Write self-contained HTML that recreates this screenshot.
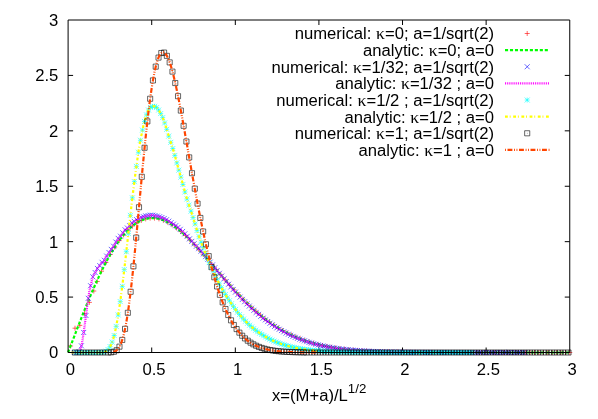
<!DOCTYPE html>
<html><head><meta charset="utf-8"><title>plot</title>
<style>
html,body{margin:0;padding:0;background:#fff}
svg{display:block;will-change:transform}
.t{font-family:"Liberation Sans",sans-serif;font-size:16.65px;fill:#000}
.k{font-family:"Liberation Serif",serif;font-size:17.6px}
</style></head><body>
<svg width="598" height="419" viewBox="0 0 598 419">
<rect width="598" height="419" fill="#fff"/>
<g class="t" text-anchor="end">
<text x="494.1" y="39.4">numerical: <tspan class="k">κ</tspan>=0; a=1/sqrt(2)</text>
<text x="494.1" y="56.03">analytic: <tspan class="k">κ</tspan>=0; a=0</text>
<text x="494.1" y="72.66">numerical: <tspan class="k">κ</tspan>=1/32; a=1/sqrt(2)</text>
<text x="494.1" y="89.29">analytic: <tspan class="k">κ</tspan>=1/32 ; a=0</text>
<text x="494.1" y="105.92">numerical: <tspan class="k">κ</tspan>=1/2 ; a=1/sqrt(2)</text>
<text x="494.1" y="122.55">analytic: <tspan class="k">κ</tspan>=1/2 ; a=0</text>
<text x="494.1" y="139.18">numerical: <tspan class="k">κ</tspan>=1; a=1/sqrt(2)</text>
<text x="494.1" y="155.81">analytic: <tspan class="k">κ</tspan>=1 ; a=0</text>
</g>
<path fill="none" stroke="#000" stroke-width="1" d="M151.71 352.5v-5M151.71 20.0v5M68.1 297.08h5M569.75 297.08h-5M235.32 352.5v-5M235.32 20.0v5M68.1 241.67h5M569.75 241.67h-5M318.92 352.5v-5M318.92 20.0v5M68.1 186.25h5M569.75 186.25h-5M402.53 352.5v-5M402.53 20.0v5M68.1 130.83h5M569.75 130.83h-5M486.14 352.5v-5M486.14 20.0v5M68.1 75.42h5M569.75 75.42h-5"/>
<g fill="none" stroke-width="0.6">
<path stroke="#f00" d="M524.7 33.5h5M527.2 31v5M68.08 345.97h5M70.58 343.47v5M72.5 328.2h5M75 325.7v5M77.3 325.4h5M79.8 322.9v5M82 313.5h5M84.5 311v5M86.9 302.4h5M89.4 299.9v5M91.3 291h5M93.8 288.5v5M94.7 281.5h5M97.2 279v5M99.01 271.2h5M101.51 268.7v5M103.43 262.47h5M105.93 259.97v5M107.84 254.43h5M110.34 251.93v5M112.26 247.14h5M114.76 244.64v5M116.68 240.62h5M119.18 238.12v5M121.1 234.92h5M123.6 232.42v5M125.52 230.04h5M128.02 227.54v5M129.93 226h5M132.43 223.5v5M134.35 222.81h5M136.85 220.31v5M138.77 220.45h5M141.27 217.95v5M143.19 218.9h5M145.69 216.4v5M147.61 218.14h5M150.11 215.64v5M152.02 218.15h5M154.52 215.65v5M156.44 218.87h5M158.94 216.37v5M160.86 220.26h5M163.36 217.76v5M165.28 222.29h5M167.78 219.79v5M169.7 224.88h5M172.2 222.38v5M174.11 227.99h5M176.61 225.49v5M178.53 231.57h5M181.03 229.07v5M182.95 235.54h5M185.45 233.04v5M187.37 239.85h5M189.87 237.35v5M191.79 244.44h5M194.29 241.94v5M196.2 249.26h5M198.7 246.76v5M200.62 254.25h5M203.12 251.75v5M205.04 259.35h5M207.54 256.85v5M209.46 264.52h5M211.96 262.02v5M213.88 269.71h5M216.38 267.21v5M218.29 274.87h5M220.79 272.37v5M222.71 279.98h5M225.21 277.48v5M227.13 284.99h5M229.63 282.49v5M231.55 289.87h5M234.05 287.37v5M235.97 294.6h5M238.47 292.1v5M240.38 299.16h5M242.88 296.66v5M244.8 303.52h5M247.3 301.02v5M249.22 307.68h5M251.72 305.18v5M253.64 311.62h5M256.14 309.12v5M258.06 315.34h5M260.56 312.84v5M262.47 318.83h5M264.97 316.33v5M266.89 322.09h5M269.39 319.59v5M271.31 325.12h5M273.81 322.62v5M275.73 327.93h5M278.23 325.43v5M280.15 330.53h5M282.65 328.03v5M284.56 332.91h5M287.06 330.41v5M288.98 335.09h5M291.48 332.59v5M293.4 337.07h5M295.9 334.57v5M297.82 338.87h5M300.32 336.37v5M302.24 340.5h5M304.74 338v5M306.65 341.97h5M309.15 339.47v5M311.07 343.28h5M313.57 340.78v5M315.49 344.46h5M317.99 341.96v5M319.91 345.51h5M322.41 343.01v5M324.33 346.44h5M326.83 343.94v5M328.74 347.26h5M331.24 344.76v5M333.16 347.98h5M335.66 345.48v5M337.58 348.62h5M340.08 346.12v5M342 349.18h5M344.5 346.68v5M346.42 349.66h5M348.92 347.16v5M350.83 350.08h5M353.33 347.58v5M355.25 350.45h5M357.75 347.95v5M359.67 350.76h5M362.17 348.26v5M364.09 351.03h5M366.59 348.53v5M368.51 351.27h5M371.01 348.77v5M372.92 351.47h5M375.42 348.97v5M377.34 351.63h5M379.84 349.13v5M381.76 351.78h5M384.26 349.28v5M386.18 351.9h5M388.68 349.4v5M390.6 352h5M393.1 349.5v5M395.01 352.09h5M397.51 349.59v5M399.43 352.16h5M401.93 349.66v5M403.85 352.22h5M406.35 349.72v5M408.27 352.27h5M410.77 349.77v5M412.69 352.31h5M415.19 349.81v5M417.1 352.35h5M419.6 349.85v5M421.52 352.38h5M424.02 349.88v5M425.94 352.4h5M428.44 349.9v5M430.36 352.42h5M432.86 349.92v5M434.78 352.44h5M437.28 349.94v5M439.19 352.45h5M441.69 349.95v5M443.61 352.46h5M446.11 349.96v5M448.03 352.47h5M450.53 349.97v5M452.45 352.47h5M454.95 349.97v5M456.87 352.48h5M459.37 349.98v5M461.28 352.48h5M463.78 349.98v5M465.7 352.49h5M468.2 349.99v5M470.12 352.49h5M472.62 349.99v5M474.54 352.49h5M477.04 349.99v5M478.96 352.49h5M481.46 349.99v5M483.37 352.5h5M485.87 350v5M487.79 352.5h5M490.29 350v5M492.21 352.5h5M494.71 350v5M496.63 352.5h5M499.13 350v5M501.05 352.5h5M503.55 350v5M505.46 352.5h5M507.96 350v5M509.88 352.5h5M512.38 350v5M514.3 352.5h5M516.8 350v5M518.72 352.5h5M521.22 350v5M523.14 352.5h5M525.64 350v5M527.55 352.5h5M530.05 350v5M531.97 352.5h5M534.47 350v5M536.39 352.5h5M538.89 350v5M540.81 352.5h5M543.31 350v5M545.23 352.5h5M547.73 350v5M549.64 352.5h5M552.14 350v5M554.06 352.5h5M556.56 350v5M558.48 352.5h5M560.98 350v5M562.9 352.5h5M565.4 350v5M567.32 352.5h5M569.82 350v5"/>
<path stroke="#0f0" stroke-width="2.2" stroke-dasharray="3.1 1.87" d="M505.0 50.13H549.6"/>
<path stroke="#0f0" stroke-width="2.2" stroke-dasharray="3.1 1.87" stroke-linejoin="round" d="M68.1 352.5L69.35 349.2L70.61 345.9L71.86 342.6L73.12 339.32L74.37 336.04L75.62 332.77L76.88 329.51L78.13 326.27L79.39 323.05L80.64 319.85L81.9 316.66L83.15 313.51L84.4 310.37L85.66 307.27L86.91 304.19L88.17 301.15L89.42 298.14L90.67 295.16L91.93 292.23L93.18 289.33L94.44 286.47L95.69 283.66L96.94 280.89L98.2 278.16L99.45 275.48L100.71 272.85L101.96 270.28L103.22 267.75L104.47 265.28L105.72 262.86L106.98 260.49L108.23 258.19L109.49 255.94L110.74 253.75L111.99 251.62L113.25 249.55L114.5 247.54L115.76 245.6L117.01 243.72L118.26 241.91L119.52 240.16L120.77 238.47L122.03 236.85L123.28 235.3L124.54 233.81L125.79 232.39L127.04 231.04L128.3 229.76L129.55 228.54L130.81 227.39L132.06 226.31L133.31 225.3L134.57 224.36L135.82 223.48L137.08 222.67L138.33 221.93L139.59 221.25L140.84 220.64L142.09 220.1L143.35 219.62L144.6 219.21L145.86 218.86L147.11 218.57L148.36 218.35L149.62 218.19L150.87 218.09L152.13 218.05L153.38 218.07L154.63 218.16L155.89 218.29L157.14 218.49L158.4 218.74L159.65 219.05L160.91 219.41L162.16 219.82L163.41 220.28L164.67 220.8L165.92 221.36L167.18 221.98L168.43 222.63L169.68 223.34L170.94 224.09L172.19 224.88L173.45 225.71L174.7 226.59L175.95 227.5L177.21 228.45L178.46 229.44L179.72 230.46L180.97 231.51L182.23 232.6L183.48 233.72L184.73 234.87L185.99 236.04L187.24 237.25L188.5 238.48L189.75 239.73L191 241L192.26 242.3L193.51 243.62L194.77 244.96L196.02 246.31L197.27 247.68L198.53 249.07L199.78 250.46L201.04 251.88L202.29 253.3L203.55 254.73L204.8 256.17L206.05 257.62L207.31 259.08L208.56 260.54L209.82 262.01L211.07 263.48L212.32 264.95L213.58 266.42L214.83 267.9L216.09 269.37L217.34 270.84L218.59 272.31L219.85 273.77L221.1 275.23L222.36 276.69L223.61 278.14L224.87 279.58L226.12 281.02L227.37 282.44L228.63 283.86L229.88 285.27L231.14 286.67L232.39 288.05L233.64 289.43L234.9 290.79L236.15 292.14L237.41 293.48L238.66 294.8L239.92 296.11L241.17 297.41L242.42 298.69L243.68 299.95L244.93 301.2L246.19 302.44L247.44 303.65L248.69 304.85L249.95 306.04L251.2 307.2L252.46 308.35L253.71 309.48L254.96 310.59L256.22 311.69L257.47 312.77L258.73 313.83L259.98 314.87L261.24 315.89L262.49 316.89L263.74 317.88L265 318.85L266.25 319.79L267.51 320.72L268.76 321.64L270.01 322.53L271.27 323.41L272.52 324.26L273.78 325.1L275.03 325.92L276.28 326.73L277.54 327.51L278.79 328.28L280.05 329.03L281.3 329.76L282.56 330.48L283.81 331.17L285.06 331.86L286.32 332.52L287.57 333.17L288.83 333.8L290.08 334.42L291.33 335.02L292.59 335.6L293.84 336.17L295.1 336.72L296.35 337.26L297.6 337.79L298.86 338.3L300.11 338.79L301.37 339.27L302.62 339.74L303.88 340.2L305.13 340.64L306.38 341.07L307.64 341.48L308.89 341.89L310.15 342.28L311.4 342.66L312.65 343.02L313.91 343.38L315.16 343.72L316.42 344.06L317.67 344.38L318.92 344.69L320.18 344.99L321.43 345.29L322.69 345.57L323.94 345.84L325.2 346.11L326.45 346.36L327.7 346.61L328.96 346.85L330.21 347.08L331.47 347.3L332.72 347.51L333.97 347.72L335.23 347.92L336.48 348.11L337.74 348.29L338.99 348.47L340.25 348.64L341.5 348.81L342.75 348.97L344.01 349.12L345.26 349.26L346.52 349.41L347.77 349.54L349.02 349.67L350.28 349.8L351.53 349.92L352.79 350.03L354.04 350.14L355.29 350.25L356.55 350.35L357.8 350.45L359.06 350.55L360.31 350.64L361.57 350.72L362.82 350.81L364.07 350.89L365.33 350.96L366.58 351.03L367.84 351.1L369.09 351.17L370.34 351.23L371.6 351.3L372.85 351.35L374.11 351.41L375.36 351.46L376.61 351.51L377.87 351.56L379.12 351.61L380.38 351.65L381.63 351.7L382.89 351.74L384.14 351.77L385.39 351.81L386.65 351.85L387.9 351.88L389.16 351.91L390.41 351.94L391.66 351.97L392.92 352L394.17 352.03L395.43 352.05L396.68 352.07L397.93 352.1L399.19 352.12L400.44 352.14L401.7 352.16L402.95 352.18L404.21 352.19L405.46 352.21L406.71 352.23L407.97 352.24L409.22 352.26L410.48 352.27L411.73 352.28L412.98 352.29L414.24 352.31L415.49 352.32L416.75 352.33L418 352.34L419.25 352.35L420.51 352.35L421.76 352.36L423.02 352.37L424.27 352.38L425.53 352.39L426.78 352.39L428.03 352.4L429.29 352.4L430.54 352.41L431.8 352.42L433.05 352.42L434.3 352.42L435.56 352.43L436.81 352.43L438.07 352.44L439.32 352.44L440.58 352.44L441.83 352.45L443.08 352.45L444.34 352.45L445.59 352.46L446.85 352.46L448.1 352.46L449.35 352.46L450.61 352.47L451.86 352.47L453.12 352.47L454.37 352.47L455.62 352.47L456.88 352.48L458.13 352.48L459.39 352.48L460.64 352.48L461.9 352.48L463.15 352.48L464.4 352.48L465.66 352.48L466.91 352.49L468.17 352.49L469.42 352.49L470.67 352.49L471.93 352.49L473.18 352.49L474.44 352.49L475.69 352.49L476.94 352.49L478.2 352.49L479.45 352.49L480.71 352.49L481.96 352.49L483.22 352.49L484.47 352.49L485.72 352.5L486.98 352.5L488.23 352.5L489.49 352.5L490.74 352.5L491.99 352.5L493.25 352.5L494.5 352.5L495.76 352.5L497.01 352.5L498.26 352.5L499.52 352.5L500.77 352.5L502.03 352.5L503.28 352.5L504.54 352.5L505.79 352.5L507.04 352.5L508.3 352.5L509.55 352.5L510.81 352.5L512.06 352.5L513.31 352.5L514.57 352.5L515.82 352.5L517.08 352.5L518.33 352.5L519.58 352.5L520.84 352.5L522.09 352.5L523.35 352.5L524.6 352.5L525.86 352.5L527.11 352.5L528.36 352.5L529.62 352.5L530.87 352.5L532.13 352.5L533.38 352.5L534.63 352.5L535.89 352.5L537.14 352.5L538.4 352.5L539.65 352.5L540.91 352.5L542.16 352.5L543.41 352.5L544.67 352.5L545.92 352.5L547.18 352.5L548.43 352.5L549.68 352.5L550.94 352.5L552.19 352.5L553.45 352.5L554.7 352.5L555.95 352.5L557.21 352.5L558.46 352.5L559.72 352.5L560.97 352.5L562.23 352.5L563.48 352.5L564.73 352.5L565.99 352.5L567.24 352.5L568.5 352.5L569.75 352.5"/>
<path stroke="#00f" d="M524.7 64.26l5 5M524.7 69.26l5 -5M71.98 350l5 5M71.98 355l5 -5M74.28 350l5 5M74.28 355l5 -5M76.58 349.07l5 5M76.58 354.07l5 -5M78.88 343.32l5 5M78.88 348.32l5 -5M81.18 329.96l5 5M81.18 334.96l5 -5M83.48 313.01l5 5M83.48 318.01l5 -5M85.78 295.82l5 5M85.78 300.82l5 -5M88.08 283.23l5 5M88.08 288.23l5 -5M90.38 274.36l5 5M90.38 279.36l5 -5M92.68 270.05l5 5M92.68 275.05l5 -5M94.98 265.94l5 5M94.98 270.94l5 -5M97.28 263.14l5 5M97.28 268.14l5 -5M99.58 259.82l5 5M99.58 264.82l5 -5M101.88 257.77l5 5M101.88 262.77l5 -5M104.18 253.58l5 5M104.18 258.58l5 -5M106.48 249.98l5 5M106.48 254.98l5 -5M108.78 246.87l5 5M108.78 251.87l5 -5M111.08 243.73l5 5M111.08 248.73l5 -5M113.38 239.53l5 5M113.38 244.53l5 -5M115.68 235.87l5 5M115.68 240.87l5 -5M117.98 233.69l5 5M117.98 238.69l5 -5M120.28 230.3l5 5M120.28 235.3l5 -5M122.58 227.29l5 5M122.58 232.29l5 -5M124.88 225.51l5 5M124.88 230.51l5 -5M127.18 223.26l5 5M127.18 228.26l5 -5M129.48 220.38l5 5M129.48 225.38l5 -5M131.78 218.86l5 5M131.78 223.86l5 -5M134.08 217.15l5 5M134.08 222.15l5 -5M136.38 216.23l5 5M136.38 221.23l5 -5M138.68 214.72l5 5M138.68 219.72l5 -5M140.98 214.22l5 5M140.98 219.22l5 -5M143.28 213.4l5 5M143.28 218.4l5 -5M145.58 213.02l5 5M145.58 218.02l5 -5M147.88 212.63l5 5M147.88 217.63l5 -5M150.18 212.72l5 5M150.18 217.72l5 -5M152.48 213.06l5 5M152.48 218.06l5 -5M154.78 213.59l5 5M154.78 218.59l5 -5M157.08 214.24l5 5M157.08 219.24l5 -5M159.38 215.03l5 5M159.38 220.03l5 -5M161.68 216.02l5 5M161.68 221.02l5 -5M163.98 217.24l5 5M163.98 222.24l5 -5M166.28 218.66l5 5M166.28 223.66l5 -5M168.58 220.17l5 5M168.58 225.17l5 -5M170.88 221.68l5 5M170.88 226.68l5 -5M173.18 223.23l5 5M173.18 228.23l5 -5M175.48 224.91l5 5M175.48 229.91l5 -5M177.78 226.8l5 5M177.78 231.8l5 -5M180.08 228.94l5 5M180.08 233.94l5 -5M182.38 231.31l5 5M182.38 236.31l5 -5M184.68 233.83l5 5M184.68 238.83l5 -5M186.98 236.39l5 5M186.98 241.39l5 -5M189.28 238.88l5 5M189.28 243.88l5 -5M191.58 241.29l5 5M191.58 246.29l5 -5M193.88 243.69l5 5M193.88 248.69l5 -5M196.18 246.15l5 5M196.18 251.15l5 -5M198.48 248.7l5 5M198.48 253.7l5 -5M200.78 251.38l5 5M200.78 256.38l5 -5M203.08 254.12l5 5M203.08 259.12l5 -5M205.38 256.85l5 5M205.38 261.85l5 -5M207.68 259.62l5 5M207.68 264.62l5 -5M209.98 262.45l5 5M209.98 267.45l5 -5M212.28 265.28l5 5M212.28 270.28l5 -5M214.58 268.06l5 5M214.58 273.06l5 -5M216.88 270.82l5 5M216.88 275.82l5 -5M219.18 273.55l5 5M219.18 278.55l5 -5M221.48 276.27l5 5M221.48 281.27l5 -5M223.78 279l5 5M223.78 284l5 -5M226.08 281.73l5 5M226.08 286.73l5 -5M228.38 284.41l5 5M228.38 289.41l5 -5M230.68 287.03l5 5M230.68 292.03l5 -5M232.98 289.6l5 5M232.98 294.6l5 -5M235.28 292.13l5 5M235.28 297.13l5 -5M237.58 294.58l5 5M237.58 299.58l5 -5M239.88 296.92l5 5M239.88 301.92l5 -5M242.18 299.2l5 5M242.18 304.2l5 -5M244.48 301.42l5 5M244.48 306.42l5 -5M246.78 303.58l5 5M246.78 308.58l5 -5M249.08 305.71l5 5M249.08 310.71l5 -5M251.38 307.81l5 5M251.38 312.81l5 -5M253.68 309.87l5 5M253.68 314.87l5 -5M255.98 311.87l5 5M255.98 316.87l5 -5M258.28 313.8l5 5M258.28 318.8l5 -5M260.58 315.63l5 5M260.58 320.63l5 -5M262.88 317.39l5 5M262.88 322.39l5 -5M265.18 319.08l5 5M265.18 324.08l5 -5M267.48 320.74l5 5M267.48 325.74l5 -5M269.78 322.35l5 5M269.78 327.35l5 -5M272.08 323.9l5 5M272.08 328.9l5 -5M274.38 325.37l5 5M274.38 330.37l5 -5M276.68 326.76l5 5M276.68 331.76l5 -5M278.98 328.08l5 5M278.98 333.08l5 -5M281.28 329.35l5 5M281.28 334.35l5 -5M283.58 330.57l5 5M283.58 335.57l5 -5M285.88 331.73l5 5M285.88 336.73l5 -5M288.18 332.83l5 5M288.18 337.83l5 -5M290.48 333.86l5 5M290.48 338.86l5 -5M292.78 334.85l5 5M292.78 339.85l5 -5M295.08 335.78l5 5M295.08 340.78l5 -5M297.38 336.68l5 5M297.38 341.68l5 -5M299.68 337.53l5 5M299.68 342.53l5 -5M301.98 338.34l5 5M301.98 343.34l5 -5M304.28 339.11l5 5M304.28 344.11l5 -5M306.58 339.85l5 5M306.58 344.85l5 -5M308.88 340.55l5 5M308.88 345.55l5 -5M311.18 341.21l5 5M311.18 346.21l5 -5M313.48 341.83l5 5M313.48 346.83l5 -5M315.78 342.4l5 5M315.78 347.4l5 -5M318.08 342.94l5 5M318.08 347.94l5 -5M320.38 343.45l5 5M320.38 348.45l5 -5M322.68 343.93l5 5M322.68 348.93l5 -5M324.98 344.39l5 5M324.98 349.39l5 -5M327.28 344.81l5 5M327.28 349.81l5 -5M329.58 345.21l5 5M329.58 350.21l5 -5M331.88 345.58l5 5M331.88 350.58l5 -5M334.18 345.93l5 5M334.18 350.93l5 -5M336.48 346.25l5 5M336.48 351.25l5 -5M338.78 346.55l5 5M338.78 351.55l5 -5M341.08 346.83l5 5M341.08 351.83l5 -5M343.38 347.07l5 5M343.38 352.07l5 -5M345.68 347.3l5 5M345.68 352.3l5 -5M347.98 347.51l5 5M347.98 352.51l5 -5M350.28 347.7l5 5M350.28 352.7l5 -5M352.58 347.89l5 5M352.58 352.89l5 -5M354.88 348.07l5 5M354.88 353.07l5 -5M357.18 348.23l5 5M357.18 353.23l5 -5M359.48 348.38l5 5M359.48 353.38l5 -5M361.78 348.51l5 5M361.78 353.51l5 -5M364.08 348.64l5 5M364.08 353.64l5 -5M366.38 348.75l5 5M366.38 353.75l5 -5M368.68 348.86l5 5M368.68 353.86l5 -5M370.98 348.96l5 5M370.98 353.96l5 -5M373.28 349.06l5 5M373.28 354.06l5 -5M375.58 349.15l5 5M375.58 354.15l5 -5M377.88 349.23l5 5M377.88 354.23l5 -5M380.18 349.31l5 5M380.18 354.31l5 -5M382.48 349.38l5 5M382.48 354.38l5 -5M384.78 349.44l5 5M384.78 354.44l5 -5M387.08 349.48l5 5M387.08 354.48l5 -5M389.38 349.53l5 5M389.38 354.53l5 -5M391.68 349.57l5 5M391.68 354.57l5 -5M393.98 349.61l5 5M393.98 354.61l5 -5M396.28 349.64l5 5M396.28 354.64l5 -5M398.58 349.68l5 5M398.58 354.68l5 -5M400.88 349.71l5 5M400.88 354.71l5 -5M403.18 349.74l5 5M403.18 354.74l5 -5M405.48 349.76l5 5M405.48 354.76l5 -5M407.78 349.79l5 5M407.78 354.79l5 -5M410.08 349.81l5 5M410.08 354.81l5 -5M412.38 349.82l5 5M412.38 354.82l5 -5M414.68 349.84l5 5M414.68 354.84l5 -5M416.98 349.86l5 5M416.98 354.86l5 -5M419.28 349.87l5 5M419.28 354.87l5 -5M421.58 349.89l5 5M421.58 354.89l5 -5M423.88 349.9l5 5M423.88 354.9l5 -5M426.18 349.91l5 5M426.18 354.91l5 -5M428.48 349.92l5 5M428.48 354.92l5 -5M430.78 349.93l5 5M430.78 354.93l5 -5M433.08 349.94l5 5M433.08 354.94l5 -5M435.38 349.95l5 5M435.38 354.95l5 -5M437.68 349.95l5 5M437.68 354.95l5 -5M439.98 349.96l5 5M439.98 354.96l5 -5M442.28 349.96l5 5M442.28 354.96l5 -5M444.58 349.97l5 5M444.58 354.97l5 -5M446.88 349.97l5 5M446.88 354.97l5 -5M449.18 349.97l5 5M449.18 354.97l5 -5M451.48 349.97l5 5M451.48 354.97l5 -5M453.78 349.98l5 5M453.78 354.98l5 -5M456.08 349.98l5 5M456.08 354.98l5 -5M458.38 349.98l5 5M458.38 354.98l5 -5M460.68 349.98l5 5M460.68 354.98l5 -5M462.98 349.99l5 5M462.98 354.99l5 -5M465.28 349.99l5 5M465.28 354.99l5 -5M467.58 349.99l5 5M467.58 354.99l5 -5M469.88 349.99l5 5M469.88 354.99l5 -5M472.18 349.99l5 5M472.18 354.99l5 -5M474.48 350l5 5M474.48 355l5 -5M476.78 350l5 5M476.78 355l5 -5M479.08 350l5 5M479.08 355l5 -5M481.38 350l5 5M481.38 355l5 -5M483.68 350l5 5M483.68 355l5 -5M485.98 350l5 5M485.98 355l5 -5M488.28 350l5 5M488.28 355l5 -5M490.58 350l5 5M490.58 355l5 -5M492.88 350l5 5M492.88 355l5 -5M495.18 350l5 5M495.18 355l5 -5M497.48 350l5 5M497.48 355l5 -5M499.78 350l5 5M499.78 355l5 -5M502.08 350l5 5M502.08 355l5 -5M504.38 350l5 5M504.38 355l5 -5M506.68 350l5 5M506.68 355l5 -5M508.98 350l5 5M508.98 355l5 -5M511.28 350l5 5M511.28 355l5 -5M513.58 350l5 5M513.58 355l5 -5M515.88 350l5 5M515.88 355l5 -5M518.18 350l5 5M518.18 355l5 -5M520.48 350l5 5M520.48 355l5 -5M522.78 350l5 5M522.78 355l5 -5"/>
<path stroke="#f0f" stroke-width="2.2" stroke-dasharray="0.95 0.92" d="M505.0 83.39H549.6"/>
<path stroke="#f0f" stroke-width="2.2" stroke-dasharray="0.95 0.92" stroke-linejoin="round" d="M78.13 352.3L78.67 351.99L79.21 351.4L79.76 350.52L80.3 349.33L80.84 347.77L81.38 345.83L81.92 343.39L82.46 340.45L83 336.98L83.54 333.38L84.08 329.77L84.62 325.9L85.16 321.74L85.7 317.61L86.24 313.55L86.78 309.43L87.32 305.12L87.87 301.16L88.41 297.47L88.95 293.85L89.49 290.6L90.03 288.05L90.57 285.78L91.11 283.62L91.65 281.47L92.19 279.29L92.73 277.32L93.27 275.9L93.81 274.86L94.35 273.85L94.89 272.96L95.43 272.15L95.98 271.16L96.52 270.01L97.06 268.98L97.6 268.32L98.14 267.75L98.68 266.94L99.22 266.17L99.76 265.66L100.3 264.96L100.84 263.88L101.38 262.91L101.92 262.39L102.46 262.22L103 262.08L103.54 261.76L104.09 260.99L104.63 259.53L105.17 257.95L105.71 257.02L106.25 256.53L106.79 255.95L107.33 255.29L107.87 254.54L108.41 253.52L108.95 252.53L109.49 251.78L110.03 251.04L110.57 250.2L111.11 249.53L111.65 248.95L112.2 248.18L112.74 247.44L113.28 246.71L113.82 245.81L114.36 244.78L114.9 243.55L115.44 242.45L115.98 241.97L116.52 241.68L117.06 240.73L117.6 239.35L118.14 238.41L118.68 237.93L119.22 237.49L119.76 237.01L120.31 236.42L120.85 235.64L121.39 234.8L121.93 234L122.47 233.22L123.01 232.51L123.55 231.87L124.09 231.03L124.63 230.17L125.17 229.76L125.71 229.61L126.25 229.29L126.79 228.75L127.33 228.07L127.87 227.35L128.42 226.78L128.96 226.38L129.5 225.95L130.04 225.28L130.58 224.34L131.12 223.52L131.66 223.06L132.2 222.77L132.74 222.48L133.28 222.06L133.82 221.61L134.36 221.33L134.9 221.03L135.44 220.52L135.98 219.98L136.53 219.67L137.07 219.53L137.61 219.38L138.15 219.12L138.69 218.82L139.23 218.57L139.77 218.26L140.31 217.78L140.85 217.34L141.39 217.18L141.93 217.13L142.47 217.05L143.01 216.91L143.55 216.68L144.09 216.37L144.64 216.09L145.18 215.98L145.72 215.91L146.26 215.75L146.8 215.63L147.34 215.58L147.88 215.55L148.42 215.47L148.96 215.34L149.5 215.22L150.04 215.15L150.58 215.13L151.12 215.14L151.66 215.15L152.2 215.18L152.75 215.22L153.29 215.28L153.83 215.35L154.37 215.44L154.91 215.54L155.45 215.65L155.99 215.77L156.53 215.9L157.07 216.04L157.61 216.18L158.15 216.32L158.69 216.48L159.23 216.64L159.77 216.8L160.31 216.98L160.86 217.16L161.4 217.35L161.94 217.55L162.48 217.76L163.02 217.99L163.56 218.23L164.1 218.48L164.64 218.74L165.18 219.02L165.72 219.31L166.26 219.61L166.8 219.93L167.34 220.25L167.88 220.59L168.42 220.93L168.97 221.28L169.51 221.63L170.05 221.99L170.59 222.34L171.13 222.7L171.67 223.06L172.21 223.41L172.75 223.77L173.29 224.12L173.83 224.48L174.37 224.84L174.91 225.2L175.45 225.57L175.99 225.95L176.53 226.33L177.08 226.72L177.62 227.13L178.16 227.54L178.7 227.97L179.24 228.41L179.78 228.87L180.32 229.34L180.86 229.82L181.4 230.32L181.94 230.82L182.48 231.35L183.02 231.88L183.56 232.43L184.1 232.99L184.64 233.56L185.19 234.14L185.73 234.72L186.27 235.32L186.81 235.92L187.35 236.52L187.89 237.12L188.43 237.73L188.97 238.33L189.51 238.92L190.05 239.52L190.59 240.1L191.13 240.69L191.67 241.26L192.21 241.84L192.75 242.41L193.3 242.97L193.84 243.54L194.38 244.1L194.92 244.66L195.46 245.23L196 245.79L196.54 246.36L197.08 246.93L197.62 247.51L198.16 248.09L198.7 248.67L199.24 249.26L199.78 249.86L200.32 250.46L200.86 251.07L201.41 251.69L201.95 252.31L202.49 252.95L203.03 253.58L203.57 254.22L204.11 254.86L204.65 255.51L205.19 256.15L205.73 256.8L206.27 257.44L206.81 258.08L207.35 258.72L207.89 259.37L208.43 260.01L208.97 260.66L209.52 261.32L210.06 261.97L210.6 262.63L211.14 263.3L211.68 263.96L212.22 264.63L212.76 265.3L213.3 265.96L213.84 266.63L214.38 267.29L214.92 267.95L215.46 268.61L216 269.26L216.54 269.92L217.08 270.57L217.63 271.22L218.17 271.87L218.71 272.51L219.25 273.16L219.79 273.81L220.33 274.45L220.87 275.09L221.41 275.73L221.95 276.37L222.49 277.01L223.03 277.65L223.57 278.29L224.11 278.93L224.65 279.57L225.19 280.21L225.74 280.85L226.28 281.49L226.82 282.14L227.36 282.78L227.9 283.42L228.44 284.06L228.98 284.7L229.52 285.33L230.06 285.96L230.6 286.59L231.14 287.21L231.68 287.83L232.22 288.45L232.76 289.06L233.3 289.67L233.85 290.28L234.39 290.88L234.93 291.49L235.47 292.09L236.01 292.69L236.55 293.29L237.09 293.88L237.63 294.47L238.17 295.05L238.71 295.63L239.25 296.21L239.79 296.78L240.33 297.34L240.87 297.9L241.41 298.45L241.96 298.99L242.5 299.54L243.04 300.08L243.58 300.61L244.12 301.14L244.66 301.67L245.2 302.2L245.74 302.73L246.28 303.25L246.82 303.77L247.36 304.28L247.9 304.79L248.44 305.3L248.98 305.81L249.52 306.31L250.07 306.81L250.61 307.31L251.15 307.81L251.69 308.31L252.23 308.8L252.77 309.3L253.31 309.79L253.85 310.28L254.39 310.77L254.93 311.25L255.47 311.74L256.01 312.22L256.55 312.69L257.09 313.17L257.63 313.64L258.18 314.11L258.72 314.57L259.26 315.03L259.8 315.49L260.34 315.93L260.88 316.38L261.42 316.82L261.96 317.25L262.5 317.68L263.04 318.1L263.58 318.52L264.12 318.94L264.66 319.35L265.2 319.75L265.74 320.16L266.29 320.56L266.83 320.96L267.37 321.35L267.91 321.75L268.45 322.14L268.99 322.53L269.53 322.91L270.07 323.3L270.61 323.68L271.15 324.06L271.69 324.44L272.23 324.81L272.77 325.19L273.31 325.55L273.85 325.92L274.4 326.28L274.94 326.63L275.48 326.98L276.02 327.33L276.56 327.67L277.1 328.01L277.64 328.34L278.18 328.67L278.72 328.99L279.26 329.31L279.8 329.63L280.34 329.94L280.88 330.25L281.42 330.55L281.96 330.85L282.51 331.15L283.05 331.45L283.59 331.75L284.13 332.04L284.67 332.33L285.21 332.61L285.75 332.9L286.29 333.18L286.83 333.45L287.37 333.73L287.91 334L288.45 334.26L288.99 334.53L289.53 334.79L290.07 335.04L290.62 335.3L291.16 335.55L291.7 335.79L292.24 336.04L292.78 336.28L293.32 336.51L293.86 336.75L294.4 336.98L294.94 337.21L295.48 337.43L296.02 337.66L296.56 337.88L297.1 338.09L297.64 338.31L298.18 338.52L298.73 338.73L299.27 338.94L299.81 339.15L300.35 339.35L300.89 339.55L301.43 339.75L301.97 339.95L302.51 340.14L303.05 340.34L303.59 340.53L304.13 340.72L304.67 340.9L305.21 341.09L305.75 341.27L306.29 341.45L306.84 341.63L307.38 341.8L307.92 341.98L308.46 342.15L309 342.32L309.54 342.49L310.08 342.66L310.62 342.82L311.16 342.99L311.7 343.15L312.24 343.31L312.78 343.46L313.32 343.61L313.86 343.77L314.4 343.91L314.95 344.06L315.49 344.2L316.03 344.34L316.57 344.48L317.11 344.62L317.65 344.75L318.19 344.88L318.73 345.01L319.27 345.14L319.81 345.26L320.35 345.39L320.89 345.51L321.43 345.63L321.97 345.75L322.51 345.87L323.06 345.98L323.6 346.1L324.14 346.21L324.68 346.33L325.22 346.44L325.76 346.55L326.3 346.65L326.84 346.76L327.38 346.87L327.92 346.97L328.46 347.07L329 347.17L329.54 347.27L330.08 347.37L330.62 347.46L331.17 347.56L331.71 347.65L332.25 347.74L332.79 347.83L333.33 347.92L333.87 348L334.41 348.09L334.95 348.17L335.49 348.25L336.03 348.33L336.57 348.41L337.11 348.49L337.65 348.57L338.19 348.64L338.73 348.72L339.28 348.79L339.82 348.86L340.36 348.93L340.9 349L341.44 349.07L341.98 349.14L342.52 349.2L343.06 349.27L343.6 349.33L344.14 349.39L344.68 349.45L345.22 349.5L345.76 349.56L346.3 349.62L346.84 349.67L347.39 349.72L347.93 349.77L348.47 349.82L349.01 349.87L349.55 349.92L350.09 349.97L350.63 350.02L351.17 350.07L351.71 350.11L352.25 350.16L352.79 350.2L353.33 350.25L353.87 350.29L354.41 350.34L354.95 350.38L355.5 350.42L356.04 350.46L356.58 350.51L357.12 350.55L357.66 350.59L358.2 350.62L358.74 350.66L359.28 350.7L359.82 350.74L360.36 350.77L360.9 350.81L361.44 350.84L361.98 350.88L362.52 350.91L363.06 350.94L363.61 350.97L364.15 351L364.69 351.03L365.23 351.06L365.77 351.09L366.31 351.12L366.85 351.15L367.39 351.18L367.93 351.21L368.47 351.23L369.01 351.26L369.55 351.29L370.09 351.31L370.63 351.34L371.17 351.36L371.72 351.39L372.26 351.41L372.8 351.43L373.34 351.46L373.88 351.48L374.42 351.5L374.96 351.53L375.5 351.55L376.04 351.57L376.58 351.59L377.12 351.61L377.66 351.63L378.2 351.65L378.74 351.67L379.28 351.69L379.83 351.71L380.37 351.73L380.91 351.75L381.45 351.77L381.99 351.79L382.53 351.8L383.07 351.82L383.61 351.84L384.15 351.85L384.69 351.87L385.23 351.88L385.77 351.9L386.31 351.91L386.85 351.92L387.39 351.94L387.94 351.95L388.48 351.96L389.02 351.97L389.56 351.98L390.1 351.99L390.64 352.01L391.18 352.02L391.72 352.03L392.26 352.03L392.8 352.04L393.34 352.05L393.88 352.06L394.42 352.07L394.96 352.08L395.5 352.09L396.05 352.1L396.59 352.11L397.13 352.12L397.67 352.12L398.21 352.13L398.75 352.14L399.29 352.15L399.83 352.16L400.37 352.17L400.91 352.17L401.45 352.18L401.99 352.19L402.53 352.2"/>
<path stroke="#0ff" d="M524.7 100.02h5M527.2 97.52v5M524.7 97.52l5 5M524.7 102.52l5 -5M73.24 352.5h5M75.74 350v5M75.27 352.5h5M77.77 350v5M77.29 352.5h5M79.79 350v5M79.31 352.5h5M81.81 350v5M81.33 352.5h5M83.83 350v5M83.35 352.5h5M85.85 350v5M85.38 352.5h5M87.88 350v5M87.4 352.5h5M89.9 350v5M89.42 352.5h5M91.92 350v5M91.44 352.5h5M93.94 350v5M93.46 352.5h5M95.96 350v5M95.49 352.5h5M97.99 350v5M97.51 352.48h5M100.01 349.98v5M99.53 352.38h5M102.03 349.88v5M101.55 352.04h5M104.05 349.54v5M103.57 351.23h5M106.07 348.73v5M105.6 349.57h5M108.1 347.07v5M107.62 346.62h5M110.12 344.12v5M109.64 342.09h5M112.14 339.59v5M111.66 335.53h5M114.16 333.03v5M113.68 326.39h5M116.18 323.89v5M115.71 314.94h5M118.21 312.44v5M117.73 301.58h5M120.23 299.08v5M119.75 286.31h5M122.25 283.81v5M121.77 269.57h5M124.27 267.07v5M123.79 251.76h5M126.29 249.26v5M125.82 233.53h5M128.32 231.03v5M127.84 215.37h5M130.34 212.87v5M129.86 197.88h5M132.36 195.38v5M131.88 181.65h5M134.38 179.15v5M133.9 166.38h5M136.4 163.88v5M135.93 152.24h5M138.43 149.74v5M137.95 140.28h5M140.45 137.78v5M139.97 130.14h5M142.47 127.64v5M141.99 121.51h5M144.49 119.01v5M144.01 114.89h5M146.51 112.39v5M146.04 110.02h5M148.54 107.52v5M148.06 107.43h5M150.56 104.93v5M150.08 106.42h5M152.58 103.92v5M152.1 106.32h5M154.6 103.82v5M154.12 107.54h5M156.62 105.04v5M156.15 110.06h5M158.65 107.56v5M158.17 113.56h5M160.67 111.06v5M160.19 117.62h5M162.69 115.12v5M162.21 122.92h5M164.71 120.42v5M164.23 129.35h5M166.73 126.85v5M166.26 136.07h5M168.76 133.57v5M168.28 142.34h5M170.78 139.84v5M170.3 148.54h5M172.8 146.04v5M172.32 155.44h5M174.82 152.94v5M174.34 162.88h5M176.84 160.38v5M176.37 170.15h5M178.87 167.65v5M178.39 177.17h5M180.89 174.67v5M180.41 184.44h5M182.91 181.94v5M182.43 191.96h5M184.93 189.46v5M184.45 198.94h5M186.95 196.44v5M186.48 205.07h5M188.98 202.57v5M188.5 211.19h5M191 208.69v5M190.52 217.49h5M193.02 214.99v5M192.54 223.96h5M195.04 221.46v5M194.56 230.54h5M197.06 228.04v5M196.59 236.68h5M199.09 234.18v5M198.61 242.24h5M201.11 239.74v5M200.63 247.52h5M203.13 245.02v5M202.65 252.77h5M205.15 250.27v5M204.67 257.87h5M207.17 255.37v5M206.7 262.6h5M209.2 260.1v5M208.72 266.97h5M211.22 264.47v5M210.74 271.27h5M213.24 268.77v5M212.76 275.54h5M215.26 273.04v5M214.78 279.79h5M217.28 277.29v5M216.81 283.87h5M219.31 281.37v5M218.83 287.59h5M221.33 285.09v5M220.85 291.1h5M223.35 288.6v5M222.87 294.53h5M225.37 292.03v5M224.89 297.78h5M227.39 295.28v5M226.92 300.79h5M229.42 298.29v5M228.94 303.77h5M231.44 301.27v5M230.96 306.61h5M233.46 304.11v5M232.98 309.43h5M235.48 306.93v5M235 312.2h5M237.5 309.7v5M237.03 314.6h5M239.53 312.1v5M239.05 316.81h5M241.55 314.31v5M241.07 319.04h5M243.57 316.54v5M243.09 321.22h5M245.59 318.72v5M245.11 323.27h5M247.61 320.77v5M247.14 325.21h5M249.64 322.71v5M249.16 326.99h5M251.66 324.49v5M251.18 328.62h5M253.68 326.12v5M253.2 330.22h5M255.7 327.72v5M255.22 331.75h5M257.72 329.25v5M257.25 333.14h5M259.75 330.64v5M259.27 334.46h5M261.77 331.96v5M261.29 335.74h5M263.79 333.24v5M263.31 336.95h5M265.81 334.45v5M265.33 338.08h5M267.83 335.58v5M267.36 339.14h5M269.86 336.64v5M269.38 340.14h5M271.88 337.64v5M271.4 341.07h5M273.9 338.57v5M273.42 341.94h5M275.92 339.44v5M275.44 342.75h5M277.94 340.25v5M277.47 343.49h5M279.97 340.99v5M279.49 344.19h5M281.99 341.69v5M281.51 344.85h5M284.01 342.35v5M283.53 345.47h5M286.03 342.97v5M285.55 346.05h5M288.05 343.55v5M287.58 346.59h5M290.08 344.09v5M289.6 347.09h5M292.1 344.59v5M291.62 347.55h5M294.12 345.05v5M293.64 347.97h5M296.14 345.47v5M295.66 348.36h5M298.16 345.86v5M297.69 348.72h5M300.19 346.22v5M299.71 349.05h5M302.21 346.55v5M301.73 349.36h5M304.23 346.86v5M303.75 349.64h5M306.25 347.14v5M305.77 349.89h5M308.27 347.39v5M307.8 350.12h5M310.3 347.62v5M309.82 350.32h5M312.32 347.82v5M311.84 350.51h5M314.34 348.01v5M313.86 350.69h5M316.36 348.19v5M315.88 350.87h5M318.38 348.37v5M317.91 351.03h5M320.41 348.53v5M319.93 351.18h5M322.43 348.68v5M321.95 351.31h5M324.45 348.81v5M323.97 351.43h5M326.47 348.93v5M325.99 351.54h5M328.49 349.04v5M328.02 351.63h5M330.52 349.13v5M330.04 351.71h5M332.54 349.21v5M332.06 351.79h5M334.56 349.29v5M334.08 351.86h5M336.58 349.36v5M336.1 351.92h5M338.6 349.42v5M338.13 351.99h5M340.63 349.49v5M340.15 352.04h5M342.65 349.54v5M342.17 352.09h5M344.67 349.59v5M344.19 352.14h5M346.69 349.64v5M346.21 352.18h5M348.71 349.68v5M348.24 352.21h5M350.74 349.71v5M350.26 352.25h5M352.76 349.75v5M352.28 352.28h5M354.78 349.78v5M354.3 352.3h5M356.8 349.8v5M356.32 352.32h5M358.82 349.82v5M358.35 352.34h5M360.85 349.84v5M360.37 352.36h5M362.87 349.86v5M362.39 352.37h5M364.89 349.87v5M364.41 352.38h5M366.91 349.88v5M366.43 352.4h5M368.93 349.9v5M368.46 352.41h5M370.96 349.91v5M370.48 352.42h5M372.98 349.92v5M372.5 352.43h5M375 349.93v5M374.52 352.44h5M377.02 349.94v5M376.54 352.45h5M379.04 349.95v5M378.57 352.45h5M381.07 349.95v5M380.59 352.46h5M383.09 349.96v5M382.61 352.46h5M385.11 349.96v5M384.63 352.47h5M387.13 349.97v5M386.65 352.47h5M389.15 349.97v5M388.68 352.48h5M391.18 349.98v5M390.7 352.48h5M393.2 349.98v5M392.72 352.48h5M395.22 349.98v5M394.74 352.48h5M397.24 349.98v5M396.76 352.49h5M399.26 349.99v5M398.79 352.49h5M401.29 349.99v5M400.81 352.49h5M403.31 349.99v5M402.83 352.49h5M405.33 349.99v5M404.85 352.49h5M407.35 349.99v5M406.87 352.49h5M409.37 349.99v5M408.9 352.5h5M411.4 350v5M410.92 352.5h5M413.42 350v5M412.94 352.5h5M415.44 350v5M414.96 352.5h5M417.46 350v5M416.98 352.5h5M419.48 350v5M419.01 352.5h5M421.51 350v5M421.03 352.5h5M423.53 350v5M423.05 352.5h5M425.55 350v5M425.07 352.5h5M427.57 350v5M427.09 352.5h5M429.59 350v5M429.12 352.5h5M431.62 350v5M431.14 352.5h5M433.64 350v5M433.16 352.5h5M435.66 350v5M435.18 352.5h5M437.68 350v5M437.2 352.5h5M439.7 350v5M439.23 352.5h5M441.73 350v5M441.25 352.5h5M443.75 350v5M443.27 352.5h5M445.77 350v5M445.29 352.5h5M447.79 350v5M447.31 352.5h5M449.81 350v5M449.34 352.5h5M451.84 350v5M451.36 352.5h5M453.86 350v5M453.38 352.5h5M455.88 350v5M455.4 352.5h5M457.9 350v5M457.42 352.5h5M459.92 350v5M459.45 352.5h5M461.95 350v5M461.47 352.5h5M463.97 350v5M463.49 352.5h5M465.99 350v5M465.51 352.5h5M468.01 350v5M467.53 352.5h5M470.03 350v5M469.56 352.5h5M472.06 350v5M73.24 350l5 5M73.24 355l5 -5M75.27 350l5 5M75.27 355l5 -5M77.29 350l5 5M77.29 355l5 -5M79.31 350l5 5M79.31 355l5 -5M81.33 350l5 5M81.33 355l5 -5M83.35 350l5 5M83.35 355l5 -5M85.38 350l5 5M85.38 355l5 -5M87.4 350l5 5M87.4 355l5 -5M89.42 350l5 5M89.42 355l5 -5M91.44 350l5 5M91.44 355l5 -5M93.46 350l5 5M93.46 355l5 -5M95.49 350l5 5M95.49 355l5 -5M97.51 349.98l5 5M97.51 354.98l5 -5M99.53 349.88l5 5M99.53 354.88l5 -5M101.55 349.54l5 5M101.55 354.54l5 -5M103.57 348.73l5 5M103.57 353.73l5 -5M105.6 347.07l5 5M105.6 352.07l5 -5M107.62 344.12l5 5M107.62 349.12l5 -5M109.64 339.59l5 5M109.64 344.59l5 -5M111.66 333.03l5 5M111.66 338.03l5 -5M113.68 323.89l5 5M113.68 328.89l5 -5M115.71 312.44l5 5M115.71 317.44l5 -5M117.73 299.08l5 5M117.73 304.08l5 -5M119.75 283.81l5 5M119.75 288.81l5 -5M121.77 267.07l5 5M121.77 272.07l5 -5M123.79 249.26l5 5M123.79 254.26l5 -5M125.82 231.03l5 5M125.82 236.03l5 -5M127.84 212.87l5 5M127.84 217.87l5 -5M129.86 195.38l5 5M129.86 200.38l5 -5M131.88 179.15l5 5M131.88 184.15l5 -5M133.9 163.88l5 5M133.9 168.88l5 -5M135.93 149.74l5 5M135.93 154.74l5 -5M137.95 137.78l5 5M137.95 142.78l5 -5M139.97 127.64l5 5M139.97 132.64l5 -5M141.99 119.01l5 5M141.99 124.01l5 -5M144.01 112.39l5 5M144.01 117.39l5 -5M146.04 107.52l5 5M146.04 112.52l5 -5M148.06 104.93l5 5M148.06 109.93l5 -5M150.08 103.92l5 5M150.08 108.92l5 -5M152.1 103.82l5 5M152.1 108.82l5 -5M154.12 105.04l5 5M154.12 110.04l5 -5M156.15 107.56l5 5M156.15 112.56l5 -5M158.17 111.06l5 5M158.17 116.06l5 -5M160.19 115.12l5 5M160.19 120.12l5 -5M162.21 120.42l5 5M162.21 125.42l5 -5M164.23 126.85l5 5M164.23 131.85l5 -5M166.26 133.57l5 5M166.26 138.57l5 -5M168.28 139.84l5 5M168.28 144.84l5 -5M170.3 146.04l5 5M170.3 151.04l5 -5M172.32 152.94l5 5M172.32 157.94l5 -5M174.34 160.38l5 5M174.34 165.38l5 -5M176.37 167.65l5 5M176.37 172.65l5 -5M178.39 174.67l5 5M178.39 179.67l5 -5M180.41 181.94l5 5M180.41 186.94l5 -5M182.43 189.46l5 5M182.43 194.46l5 -5M184.45 196.44l5 5M184.45 201.44l5 -5M186.48 202.57l5 5M186.48 207.57l5 -5M188.5 208.69l5 5M188.5 213.69l5 -5M190.52 214.99l5 5M190.52 219.99l5 -5M192.54 221.46l5 5M192.54 226.46l5 -5M194.56 228.04l5 5M194.56 233.04l5 -5M196.59 234.18l5 5M196.59 239.18l5 -5M198.61 239.74l5 5M198.61 244.74l5 -5M200.63 245.02l5 5M200.63 250.02l5 -5M202.65 250.27l5 5M202.65 255.27l5 -5M204.67 255.37l5 5M204.67 260.37l5 -5M206.7 260.1l5 5M206.7 265.1l5 -5M208.72 264.47l5 5M208.72 269.47l5 -5M210.74 268.77l5 5M210.74 273.77l5 -5M212.76 273.04l5 5M212.76 278.04l5 -5M214.78 277.29l5 5M214.78 282.29l5 -5M216.81 281.37l5 5M216.81 286.37l5 -5M218.83 285.09l5 5M218.83 290.09l5 -5M220.85 288.6l5 5M220.85 293.6l5 -5M222.87 292.03l5 5M222.87 297.03l5 -5M224.89 295.28l5 5M224.89 300.28l5 -5M226.92 298.29l5 5M226.92 303.29l5 -5M228.94 301.27l5 5M228.94 306.27l5 -5M230.96 304.11l5 5M230.96 309.11l5 -5M232.98 306.93l5 5M232.98 311.93l5 -5M235 309.7l5 5M235 314.7l5 -5M237.03 312.1l5 5M237.03 317.1l5 -5M239.05 314.31l5 5M239.05 319.31l5 -5M241.07 316.54l5 5M241.07 321.54l5 -5M243.09 318.72l5 5M243.09 323.72l5 -5M245.11 320.77l5 5M245.11 325.77l5 -5M247.14 322.71l5 5M247.14 327.71l5 -5M249.16 324.49l5 5M249.16 329.49l5 -5M251.18 326.12l5 5M251.18 331.12l5 -5M253.2 327.72l5 5M253.2 332.72l5 -5M255.22 329.25l5 5M255.22 334.25l5 -5M257.25 330.64l5 5M257.25 335.64l5 -5M259.27 331.96l5 5M259.27 336.96l5 -5M261.29 333.24l5 5M261.29 338.24l5 -5M263.31 334.45l5 5M263.31 339.45l5 -5M265.33 335.58l5 5M265.33 340.58l5 -5M267.36 336.64l5 5M267.36 341.64l5 -5M269.38 337.64l5 5M269.38 342.64l5 -5M271.4 338.57l5 5M271.4 343.57l5 -5M273.42 339.44l5 5M273.42 344.44l5 -5M275.44 340.25l5 5M275.44 345.25l5 -5M277.47 340.99l5 5M277.47 345.99l5 -5M279.49 341.69l5 5M279.49 346.69l5 -5M281.51 342.35l5 5M281.51 347.35l5 -5M283.53 342.97l5 5M283.53 347.97l5 -5M285.55 343.55l5 5M285.55 348.55l5 -5M287.58 344.09l5 5M287.58 349.09l5 -5M289.6 344.59l5 5M289.6 349.59l5 -5M291.62 345.05l5 5M291.62 350.05l5 -5M293.64 345.47l5 5M293.64 350.47l5 -5M295.66 345.86l5 5M295.66 350.86l5 -5M297.69 346.22l5 5M297.69 351.22l5 -5M299.71 346.55l5 5M299.71 351.55l5 -5M301.73 346.86l5 5M301.73 351.86l5 -5M303.75 347.14l5 5M303.75 352.14l5 -5M305.77 347.39l5 5M305.77 352.39l5 -5M307.8 347.62l5 5M307.8 352.62l5 -5M309.82 347.82l5 5M309.82 352.82l5 -5M311.84 348.01l5 5M311.84 353.01l5 -5M313.86 348.19l5 5M313.86 353.19l5 -5M315.88 348.37l5 5M315.88 353.37l5 -5M317.91 348.53l5 5M317.91 353.53l5 -5M319.93 348.68l5 5M319.93 353.68l5 -5M321.95 348.81l5 5M321.95 353.81l5 -5M323.97 348.93l5 5M323.97 353.93l5 -5M325.99 349.04l5 5M325.99 354.04l5 -5M328.02 349.13l5 5M328.02 354.13l5 -5M330.04 349.21l5 5M330.04 354.21l5 -5M332.06 349.29l5 5M332.06 354.29l5 -5M334.08 349.36l5 5M334.08 354.36l5 -5M336.1 349.42l5 5M336.1 354.42l5 -5M338.13 349.49l5 5M338.13 354.49l5 -5M340.15 349.54l5 5M340.15 354.54l5 -5M342.17 349.59l5 5M342.17 354.59l5 -5M344.19 349.64l5 5M344.19 354.64l5 -5M346.21 349.68l5 5M346.21 354.68l5 -5M348.24 349.71l5 5M348.24 354.71l5 -5M350.26 349.75l5 5M350.26 354.75l5 -5M352.28 349.78l5 5M352.28 354.78l5 -5M354.3 349.8l5 5M354.3 354.8l5 -5M356.32 349.82l5 5M356.32 354.82l5 -5M358.35 349.84l5 5M358.35 354.84l5 -5M360.37 349.86l5 5M360.37 354.86l5 -5M362.39 349.87l5 5M362.39 354.87l5 -5M364.41 349.88l5 5M364.41 354.88l5 -5M366.43 349.9l5 5M366.43 354.9l5 -5M368.46 349.91l5 5M368.46 354.91l5 -5M370.48 349.92l5 5M370.48 354.92l5 -5M372.5 349.93l5 5M372.5 354.93l5 -5M374.52 349.94l5 5M374.52 354.94l5 -5M376.54 349.95l5 5M376.54 354.95l5 -5M378.57 349.95l5 5M378.57 354.95l5 -5M380.59 349.96l5 5M380.59 354.96l5 -5M382.61 349.96l5 5M382.61 354.96l5 -5M384.63 349.97l5 5M384.63 354.97l5 -5M386.65 349.97l5 5M386.65 354.97l5 -5M388.68 349.98l5 5M388.68 354.98l5 -5M390.7 349.98l5 5M390.7 354.98l5 -5M392.72 349.98l5 5M392.72 354.98l5 -5M394.74 349.98l5 5M394.74 354.98l5 -5M396.76 349.99l5 5M396.76 354.99l5 -5M398.79 349.99l5 5M398.79 354.99l5 -5M400.81 349.99l5 5M400.81 354.99l5 -5M402.83 349.99l5 5M402.83 354.99l5 -5M404.85 349.99l5 5M404.85 354.99l5 -5M406.87 349.99l5 5M406.87 354.99l5 -5M408.9 350l5 5M408.9 355l5 -5M410.92 350l5 5M410.92 355l5 -5M412.94 350l5 5M412.94 355l5 -5M414.96 350l5 5M414.96 355l5 -5M416.98 350l5 5M416.98 355l5 -5M419.01 350l5 5M419.01 355l5 -5M421.03 350l5 5M421.03 355l5 -5M423.05 350l5 5M423.05 355l5 -5M425.07 350l5 5M425.07 355l5 -5M427.09 350l5 5M427.09 355l5 -5M429.12 350l5 5M429.12 355l5 -5M431.14 350l5 5M431.14 355l5 -5M433.16 350l5 5M433.16 355l5 -5M435.18 350l5 5M435.18 355l5 -5M437.2 350l5 5M437.2 355l5 -5M439.23 350l5 5M439.23 355l5 -5M441.25 350l5 5M441.25 355l5 -5M443.27 350l5 5M443.27 355l5 -5M445.29 350l5 5M445.29 355l5 -5M447.31 350l5 5M447.31 355l5 -5M449.34 350l5 5M449.34 355l5 -5M451.36 350l5 5M451.36 355l5 -5M453.38 350l5 5M453.38 355l5 -5M455.4 350l5 5M455.4 355l5 -5M457.42 350l5 5M457.42 355l5 -5M459.45 350l5 5M459.45 355l5 -5M461.47 350l5 5M461.47 355l5 -5M463.49 350l5 5M463.49 355l5 -5M465.51 350l5 5M465.51 355l5 -5M467.53 350l5 5M467.53 355l5 -5M469.56 350l5 5M469.56 355l5 -5"/>
<path stroke="#ff0" stroke-width="2.2" stroke-dasharray="2.8 1.9 0.9 2.6" d="M505.0 116.65H549.6"/>
<path stroke="#ff0" stroke-width="2.2" stroke-dasharray="2.8 1.9 0.9 2.6" stroke-linejoin="round" d="M71.44 352.5L71.85 352.5L72.26 352.5L72.67 352.5L73.08 352.5L73.49 352.5L73.9 352.5L74.31 352.5L74.72 352.5L75.13 352.5L75.54 352.5L75.95 352.5L76.36 352.5L76.77 352.5L77.18 352.5L77.59 352.5L78 352.5L78.41 352.5L78.82 352.5L79.23 352.5L79.64 352.5L80.05 352.5L80.46 352.5L80.87 352.5L81.28 352.5L81.69 352.5L82.1 352.5L82.51 352.5L82.92 352.5L83.33 352.5L83.73 352.5L84.14 352.5L84.55 352.5L84.96 352.5L85.37 352.5L85.78 352.5L86.19 352.5L86.6 352.5L87.01 352.5L87.42 352.5L87.83 352.5L88.24 352.5L88.65 352.5L89.06 352.5L89.47 352.5L89.88 352.5L90.29 352.5L90.7 352.5L91.11 352.5L91.52 352.5L91.93 352.5L92.34 352.5L92.75 352.5L93.16 352.5L93.57 352.5L93.98 352.5L94.39 352.5L94.8 352.5L95.21 352.5L95.62 352.5L96.03 352.5L96.43 352.5L96.84 352.5L97.25 352.5L97.66 352.5L98.07 352.5L98.48 352.49L98.89 352.49L99.3 352.49L99.71 352.48L100.12 352.47L100.53 352.46L100.94 352.45L101.35 352.43L101.76 352.4L102.17 352.36L102.58 352.32L102.99 352.26L103.4 352.19L103.81 352.1L104.22 351.99L104.63 351.87L105.04 351.72L105.45 351.55L105.86 351.35L106.27 351.12L106.68 350.85L107.09 350.54L107.5 350.18L107.91 349.78L108.32 349.32L108.73 348.81L109.13 348.24L109.54 347.6L109.95 346.91L110.36 346.16L110.77 345.34L111.18 344.45L111.59 343.49L112 342.45L112.41 341.34L112.82 340.14L113.23 338.85L113.64 337.45L114.05 335.95L114.46 334.34L114.87 332.63L115.28 330.8L115.69 328.87L116.1 326.83L116.51 324.69L116.92 322.46L117.33 320.15L117.74 317.76L118.15 315.29L118.56 312.75L118.97 310.13L119.38 307.43L119.79 304.66L120.2 301.8L120.61 298.86L121.02 295.84L121.43 292.74L121.84 289.58L122.24 286.35L122.65 283.07L123.06 279.72L123.47 276.33L123.88 272.88L124.29 269.39L124.7 265.85L125.11 262.27L125.52 258.65L125.93 255L126.34 251.33L126.75 247.64L127.16 243.95L127.57 240.26L127.98 236.56L128.39 232.86L128.8 229.17L129.21 225.48L129.62 221.79L130.03 218.12L130.44 214.48L130.85 210.86L131.26 207.28L131.67 203.74L132.08 200.25L132.49 196.82L132.9 193.45L133.31 190.13L133.72 186.87L134.13 183.64L134.54 180.46L134.94 177.32L135.35 174.21L135.76 171.13L136.17 168.08L136.58 165.07L136.99 162.1L137.4 159.19L137.81 156.34L138.22 153.58L138.63 150.92L139.04 148.35L139.45 145.87L139.86 143.51L140.27 141.24L140.68 139.04L141.09 136.91L141.5 134.84L141.91 132.82L142.32 130.85L142.73 128.93L143.14 127.08L143.55 125.3L143.96 123.59L144.37 121.97L144.78 120.45L145.19 119.02L145.6 117.66L146.01 116.38L146.42 115.17L146.83 114.02L147.24 112.94L147.64 111.93L148.05 111.01L148.46 110.17L148.87 109.42L149.28 108.79L149.69 108.26L150.1 107.82L150.51 107.47L150.92 107.18L151.33 106.93L151.74 106.74L152.15 106.57L152.56 106.43L152.97 106.32L153.38 106.24L153.79 106.21L154.2 106.24L154.61 106.32L155.02 106.46L155.43 106.65L155.84 106.9L156.25 107.21L156.66 107.57L157.07 107.98L157.48 108.45L157.89 108.97L158.3 109.53L158.71 110.15L159.12 110.81L159.53 111.51L159.94 112.23L160.35 112.96L160.75 113.72L161.16 114.49L161.57 115.28L161.98 116.1L162.39 116.97L162.8 117.88L163.21 118.85L163.62 119.88L164.03 120.98L164.44 122.13L164.85 123.33L165.26 124.58L165.67 125.87L166.08 127.19L166.49 128.54L166.9 129.9L167.31 131.27L167.72 132.65L168.13 134.01L168.54 135.36L168.95 136.69L169.36 137.99L169.77 139.27L170.18 140.53L170.59 141.77L171 143L171.41 144.23L171.82 145.47L172.23 146.73L172.64 148.01L173.05 149.33L173.45 150.68L173.86 152.07L174.27 153.49L174.68 154.95L175.09 156.43L175.5 157.93L175.91 159.44L176.32 160.96L176.73 162.47L177.14 163.98L177.55 165.47L177.96 166.95L178.37 168.41L178.78 169.85L179.19 171.28L179.6 172.7L180.01 174.12L180.42 175.53L180.83 176.96L181.24 178.4L181.65 179.85L182.06 181.32L182.47 182.82L182.88 184.32L183.29 185.84L183.7 187.37L184.11 188.9L184.52 190.42L184.93 191.93L185.34 193.42L185.75 194.88L186.15 196.29L186.56 197.67L186.97 199L187.38 200.29L187.79 201.55L188.2 202.78L188.61 203.99L189.02 205.21L189.43 206.42L189.84 207.65L190.25 208.89L190.66 210.15L191.07 211.42L191.48 212.69L191.89 213.97L192.3 215.25L192.71 216.52L193.12 217.81L193.53 219.09L193.94 220.39L194.35 221.71L194.76 223.03L195.17 224.37L195.58 225.71L195.99 227.06L196.4 228.39L196.81 229.72L197.22 231.02L197.63 232.3L198.04 233.56L198.45 234.8L198.86 236.01L199.26 237.19L199.67 238.35L200.08 239.49L200.49 240.6L200.9 241.7L201.31 242.79L201.72 243.86L202.13 244.93L202.54 245.99L202.95 247.06L203.36 248.13L203.77 249.19L204.18 250.26L204.59 251.32L205 252.38L205.41 253.44L205.82 254.48L206.23 255.52L206.64 256.54L207.05 257.56L207.46 258.56L207.87 259.55L208.28 260.51L208.69 261.45L209.1 262.38L209.51 263.28L209.92 264.18L210.33 265.06L210.74 265.94L211.15 266.81L211.56 267.69L211.96 268.56L212.37 269.43L212.78 270.3L213.19 271.17L213.6 272.03L214.01 272.9L214.42 273.77L214.83 274.63L215.24 275.5L215.65 276.36L216.06 277.23L216.47 278.09L216.88 278.95L217.29 279.81L217.7 280.66L218.11 281.5L218.52 282.32L218.93 283.14L219.34 283.94L219.75 284.72L220.16 285.48L220.57 286.23L220.98 286.96L221.39 287.69L221.8 288.41L222.21 289.12L222.62 289.83L223.03 290.54L223.44 291.24L223.85 291.95L224.26 292.65L224.66 293.34L225.07 294.04L225.48 294.72L225.89 295.4L226.3 296.07L226.71 296.72L227.12 297.36L227.53 297.99L227.94 298.61L228.35 299.22L228.76 299.82L229.17 300.43L229.58 301.03L229.99 301.64L230.4 302.25L230.81 302.85L231.22 303.45L231.63 304.05L232.04 304.63L232.45 305.21L232.86 305.78L233.27 306.35L233.68 306.91L234.09 307.48L234.5 308.04L234.91 308.62L235.32 309.19L235.73 309.77L236.14 310.35L236.55 310.92L236.96 311.47L237.37 312.02L237.77 312.54L238.18 313.05L238.59 313.54L239 314.02L239.41 314.48L239.82 314.93L240.23 315.38L240.64 315.82L241.05 316.27L241.46 316.72L241.87 317.17L242.28 317.62L242.69 318.08L243.1 318.53L243.51 318.98L243.92 319.43L244.33 319.87L244.74 320.31L245.15 320.75L245.56 321.18L245.97 321.61L246.38 322.03L246.79 322.45L247.2 322.86L247.61 323.27L248.02 323.67L248.43 324.06L248.84 324.46L249.25 324.84L249.66 325.23L250.07 325.6L250.47 325.97L250.88 326.33L251.29 326.68L251.7 327.03L252.11 327.36L252.52 327.7L252.93 328.02L253.34 328.35L253.75 328.67L254.16 329L254.57 329.32L254.98 329.65L255.39 329.97L255.8 330.3L256.21 330.61L256.62 330.93L257.03 331.24L257.44 331.54L257.85 331.84L258.26 332.13L258.67 332.41L259.08 332.69L259.49 332.97L259.9 333.24L260.31 333.51L260.72 333.78L261.13 334.05L261.54 334.31L261.95 334.58L262.36 334.84L262.77 335.1L263.17 335.36L263.58 335.61L263.99 335.87L264.4 336.12L264.81 336.36L265.22 336.61L265.63 336.85L266.04 337.08L266.45 337.32L266.86 337.55L267.27 337.77L267.68 338L268.09 338.22L268.5 338.43L268.91 338.65L269.32 338.86L269.73 339.07L270.14 339.28L270.55 339.49L270.96 339.69L271.37 339.89L271.78 340.09L272.19 340.29L272.6 340.48L273.01 340.67L273.42 340.86L273.83 341.04L274.24 341.22L274.65 341.4L275.06 341.58L275.47 341.75L275.88 341.92L276.28 342.09L276.69 342.26L277.1 342.42L277.51 342.58L277.92 342.74L278.33 342.89L278.74 343.05L279.15 343.2L279.56 343.35L279.97 343.49L280.38 343.64L280.79 343.78L281.2 343.92L281.61 344.06L282.02 344.2L282.43 344.34L282.84 344.47L283.25 344.6L283.66 344.74L284.07 344.87L284.48 344.99L284.89 345.12L285.3 345.25L285.71 345.37L286.12 345.49L286.53 345.61L286.94 345.73L287.35 345.85L287.76 345.97L288.17 346.08L288.58 346.2L288.98 346.31L289.39 346.42L289.8 346.52L290.21 346.63L290.62 346.73L291.03 346.84L291.44 346.94L291.85 347.04L292.26 347.13L292.67 347.23L293.08 347.32L293.49 347.41L293.9 347.5L294.31 347.59L294.72 347.68L295.13 347.77L295.54 347.85L295.95 347.93L296.36 348.01L296.77 348.09L297.18 348.17L297.59 348.25L298 348.33L298.41 348.4L298.82 348.48L299.23 348.55L299.64 348.62L300.05 348.69L300.46 348.76L300.87 348.83L301.28 348.9L301.68 348.96L302.09 349.03L302.5 349.1L302.91 349.16L303.32 349.22L303.73 349.28L304.14 349.34L304.55 349.4L304.96 349.46L305.37 349.52L305.78 349.57L306.19 349.63L306.6 349.68L307.01 349.73L307.42 349.79L307.83 349.84L308.24 349.89L308.65 349.93L309.06 349.98L309.47 350.03L309.88 350.07L310.29 350.12L310.7 350.16L311.11 350.2L311.52 350.24L311.93 350.28L312.34 350.32L312.75 350.36L313.16 350.4L313.57 350.44L313.98 350.48L314.39 350.52L314.79 350.56L315.2 350.59L315.61 350.63L316.02 350.66L316.43 350.7L316.84 350.74L317.25 350.77"/>
<path stroke="#000" d="M524.65 130.73h5.1v5.1h-5.1zM526.95 133.28h.5M72.3 349.95H110.87M72.3 355.05H110.87M72.3 349.95v5.1M77.4 349.95v5.1M74.6 352.5h.5M75.09 349.95v5.1M80.19 349.95v5.1M77.39 352.5h.5M77.88 349.95v5.1M82.98 349.95v5.1M80.18 352.5h.5M80.67 349.95v5.1M85.77 349.95v5.1M82.97 352.5h.5M83.46 349.95v5.1M88.56 349.95v5.1M85.76 352.5h.5M86.24 349.95v5.1M91.34 349.95v5.1M88.54 352.5h.5M89.03 349.95v5.1M94.13 349.95v5.1M91.33 352.5h.5M91.82 349.95v5.1M96.92 349.95v5.1M94.12 352.5h.5M94.61 349.95v5.1M99.71 349.95v5.1M96.91 352.5h.5M97.4 349.95v5.1M102.5 349.95v5.1M99.7 352.5h.5M100.19 349.95v5.1M105.29 349.95v5.1M102.49 352.5h.5M102.98 349.95v5.1M108.08 349.95v5.1M105.28 352.5h.5M105.77 349.95v5.1M110.87 349.95v5.1M108.07 352.5h.5M108.56 349.78h5.1v5.1h-5.1zM110.86 352.33h.5M111.35 349.24h5.1v5.1h-5.1zM113.65 351.79h.5M114.14 347.68h5.1v5.1h-5.1zM116.44 350.23h.5M116.92 344.1h5.1v5.1h-5.1zM119.22 346.65h.5M119.71 337.37h5.1v5.1h-5.1zM122.01 339.92h.5M122.5 326.3h5.1v5.1h-5.1zM124.8 328.85h.5M125.29 310.25h5.1v5.1h-5.1zM127.59 312.8h.5M128.08 289.22h5.1v5.1h-5.1zM130.38 291.77h.5M130.87 263.75h5.1v5.1h-5.1zM133.17 266.3h.5M133.66 235.07h5.1v5.1h-5.1zM135.96 237.62h.5M136.45 204.7h5.1v5.1h-5.1zM138.75 207.25h.5M139.24 174.23h5.1v5.1h-5.1zM141.54 176.78h.5M142.02 145.2h5.1v5.1h-5.1zM144.32 147.75h.5M144.81 118.84h5.1v5.1h-5.1zM147.11 121.39h.5M147.6 96.21h5.1v5.1h-5.1zM149.9 98.76h.5M150.39 77.87h5.1v5.1h-5.1zM152.69 80.42h.5M153.18 64.1h5.1v5.1h-5.1zM155.48 66.65h.5M155.97 55.05h5.1v5.1h-5.1zM158.27 57.6h.5M158.76 50.48h5.1v5.1h-5.1zM161.06 53.03h.5M161.55 50.01h5.1v5.1h-5.1zM163.85 52.56h.5M164.34 53.32h5.1v5.1h-5.1zM166.64 55.87h.5M167.13 59.85h5.1v5.1h-5.1zM169.43 62.4h.5M169.91 69.06h5.1v5.1h-5.1zM172.22 71.61h.5M172.7 80.49h5.1v5.1h-5.1zM175 83.04h.5M175.49 93.63h5.1v5.1h-5.1zM177.79 96.18h.5M178.28 108.01h5.1v5.1h-5.1zM180.58 110.56h.5M181.07 123.25h5.1v5.1h-5.1zM183.37 125.8h.5M183.86 138.97h5.1v5.1h-5.1zM186.16 141.52h.5M186.65 154.85h5.1v5.1h-5.1zM188.95 157.4h.5M189.44 170.63h5.1v5.1h-5.1zM191.74 173.18h.5M192.23 186.09h5.1v5.1h-5.1zM194.53 188.64h.5M195.02 201.06h5.1v5.1h-5.1zM197.32 203.61h.5M197.81 215.38h5.1v5.1h-5.1zM200.11 217.93h.5M200.59 228.96h5.1v5.1h-5.1zM202.89 231.51h.5M203.38 241.72h5.1v5.1h-5.1zM205.68 244.27h.5M206.17 253.6h5.1v5.1h-5.1zM208.47 256.15h.5M208.96 264.59h5.1v5.1h-5.1zM211.26 267.14h.5M211.75 274.69h5.1v5.1h-5.1zM214.05 277.24h.5M214.54 283.89h5.1v5.1h-5.1zM216.84 286.44h.5M217.33 292.24h5.1v5.1h-5.1zM219.63 294.79h.5M220.12 299.76h5.1v5.1h-5.1zM222.42 302.31h.5M222.91 306.48h5.1v5.1h-5.1zM225.21 309.03h.5M225.69 312.47h5.1v5.1h-5.1zM228 315.02h.5M228.48 317.77h5.1v5.1h-5.1zM230.78 320.32h.5M231.27 322.44h5.1v5.1h-5.1zM233.57 324.99h.5M234.06 326.53h5.1v5.1h-5.1zM236.36 329.08h.5M236.85 330.1h5.1v5.1h-5.1zM239.15 332.65h.5M239.64 333.18h5.1v5.1h-5.1zM241.94 335.73h.5M242.43 335.85h5.1v5.1h-5.1zM244.73 338.4h.5M245.22 338.14h5.1v5.1h-5.1zM247.52 340.69h.5M248.01 340.1h5.1v5.1h-5.1zM250.31 342.65h.5M250.8 341.77h5.1v5.1h-5.1zM253.1 344.32h.5M253.58 343.18h5.1v5.1h-5.1zM255.88 345.73h.5M256.37 344.37h5.1v5.1h-5.1zM258.67 346.92h.5M259.16 345.37h5.1v5.1h-5.1zM261.46 347.92h.5M261.95 346.2h5.1v5.1h-5.1zM264.25 348.75h.5M264.74 346.9h5.1v5.1h-5.1zM267.04 349.45h.5M267.53 347.47h5.1v5.1h-5.1zM269.83 350.02h.5M270.32 347.95h5.1v5.1h-5.1zM272.62 350.5h.5M273.11 348.34h5.1v5.1h-5.1zM275.41 350.89h.5M275.9 348.66h5.1v5.1h-5.1zM278.2 351.21h.5M278.69 348.92h5.1v5.1h-5.1zM280.99 351.47h.5M281.47 349.13h5.1v5.1h-5.1zM283.77 351.68h.5M284.26 349.3h5.1v5.1h-5.1zM286.56 351.85h.5M287.05 349.43h5.1v5.1h-5.1zM289.35 351.98h.5M289.84 349.54h5.1v5.1h-5.1zM292.14 352.09h.5M292.63 349.63h5.1v5.1h-5.1zM294.93 352.18h.5M295.42 349.7h5.1v5.1h-5.1zM297.72 352.25h.5M298.21 349.76h5.1v5.1h-5.1zM300.51 352.31h.5M301 349.8h5.1v5.1h-5.1zM303.3 352.35h.5M303.79 349.95H571.05M303.79 355.05H571.05M303.79 349.95v5.1M308.89 349.95v5.1M306.09 352.5h.5M306.58 349.95v5.1M311.68 349.95v5.1M308.88 352.5h.5M309.37 349.95v5.1M314.47 349.95v5.1M311.67 352.5h.5M312.15 349.95v5.1M317.25 349.95v5.1M314.45 352.5h.5M314.94 349.95v5.1M320.04 349.95v5.1M317.24 352.5h.5M317.73 349.95v5.1M322.83 349.95v5.1M320.03 352.5h.5M320.52 349.95v5.1M325.62 349.95v5.1M322.82 352.5h.5M323.31 349.95v5.1M328.41 349.95v5.1M325.61 352.5h.5M326.1 349.95v5.1M331.2 349.95v5.1M328.4 352.5h.5M328.89 349.95v5.1M333.99 349.95v5.1M331.19 352.5h.5M331.68 349.95v5.1M336.78 349.95v5.1M333.98 352.5h.5M334.47 349.95v5.1M339.57 349.95v5.1M336.77 352.5h.5M337.26 349.95v5.1M342.36 349.95v5.1M339.56 352.5h.5M340.04 349.95v5.1M345.14 349.95v5.1M342.34 352.5h.5M342.83 349.95v5.1M347.93 349.95v5.1M345.13 352.5h.5M345.62 349.95v5.1M350.72 349.95v5.1M347.92 352.5h.5M348.41 349.95v5.1M353.51 349.95v5.1M350.71 352.5h.5M351.2 349.95v5.1M356.3 349.95v5.1M353.5 352.5h.5M353.99 349.95v5.1M359.09 349.95v5.1M356.29 352.5h.5M356.78 349.95v5.1M361.88 349.95v5.1M359.08 352.5h.5M359.57 349.95v5.1M364.67 349.95v5.1M361.87 352.5h.5M362.36 349.95v5.1M367.46 349.95v5.1M364.66 352.5h.5M365.15 349.95v5.1M370.25 349.95v5.1M367.45 352.5h.5M367.93 349.95v5.1M373.03 349.95v5.1M370.23 352.5h.5M370.72 349.95v5.1M375.82 349.95v5.1M373.02 352.5h.5M373.51 349.95v5.1M378.61 349.95v5.1M375.81 352.5h.5M376.3 349.95v5.1M381.4 349.95v5.1M378.6 352.5h.5M379.09 349.95v5.1M384.19 349.95v5.1M381.39 352.5h.5M381.88 349.95v5.1M386.98 349.95v5.1M384.18 352.5h.5M384.67 349.95v5.1M389.77 349.95v5.1M386.97 352.5h.5M387.46 349.95v5.1M392.56 349.95v5.1M389.76 352.5h.5M390.25 349.95v5.1M395.35 349.95v5.1M392.55 352.5h.5M393.04 349.95v5.1M398.14 349.95v5.1M395.34 352.5h.5M395.82 349.95v5.1M400.92 349.95v5.1M398.12 352.5h.5M398.61 349.95v5.1M403.71 349.95v5.1M400.91 352.5h.5M401.4 349.95v5.1M406.5 349.95v5.1M403.7 352.5h.5M404.19 349.95v5.1M409.29 349.95v5.1M406.49 352.5h.5M406.98 349.95v5.1M412.08 349.95v5.1M409.28 352.5h.5M409.77 349.95v5.1M414.87 349.95v5.1M412.07 352.5h.5M412.56 349.95v5.1M417.66 349.95v5.1M414.86 352.5h.5M415.35 349.95v5.1M420.45 349.95v5.1M417.65 352.5h.5M418.14 349.95v5.1M423.24 349.95v5.1M420.44 352.5h.5M420.93 349.95v5.1M426.03 349.95v5.1M423.23 352.5h.5M423.71 349.95v5.1M428.81 349.95v5.1M426.01 352.5h.5M426.5 349.95v5.1M431.6 349.95v5.1M428.8 352.5h.5M429.29 349.95v5.1M434.39 349.95v5.1M431.59 352.5h.5M432.08 349.95v5.1M437.18 349.95v5.1M434.38 352.5h.5M434.87 349.95v5.1M439.97 349.95v5.1M437.17 352.5h.5M437.66 349.95v5.1M442.76 349.95v5.1M439.96 352.5h.5M440.45 349.95v5.1M445.55 349.95v5.1M442.75 352.5h.5M443.24 349.95v5.1M448.34 349.95v5.1M445.54 352.5h.5M446.03 349.95v5.1M451.13 349.95v5.1M448.33 352.5h.5M448.81 349.95v5.1M453.92 349.95v5.1M451.12 352.5h.5M451.6 349.95v5.1M456.7 349.95v5.1M453.9 352.5h.5M454.39 349.95v5.1M459.49 349.95v5.1M456.69 352.5h.5M457.18 349.95v5.1M462.28 349.95v5.1M459.48 352.5h.5M459.97 349.95v5.1M465.07 349.95v5.1M462.27 352.5h.5M462.76 349.95v5.1M467.86 349.95v5.1M465.06 352.5h.5M465.55 349.95v5.1M470.65 349.95v5.1M467.85 352.5h.5M468.34 349.95v5.1M473.44 349.95v5.1M470.64 352.5h.5M471.13 349.95v5.1M476.23 349.95v5.1M473.43 352.5h.5M473.92 349.95v5.1M479.02 349.95v5.1M476.22 352.5h.5M476.7 349.95v5.1M481.81 349.95v5.1M479 352.5h.5M479.49 349.95v5.1M484.59 349.95v5.1M481.79 352.5h.5M482.28 349.95v5.1M487.38 349.95v5.1M484.58 352.5h.5M485.07 349.95v5.1M490.17 349.95v5.1M487.37 352.5h.5M487.86 349.95v5.1M492.96 349.95v5.1M490.16 352.5h.5M490.65 349.95v5.1M495.75 349.95v5.1M492.95 352.5h.5M493.44 349.95v5.1M498.54 349.95v5.1M495.74 352.5h.5M496.23 349.95v5.1M501.33 349.95v5.1M498.53 352.5h.5M499.02 349.95v5.1M504.12 349.95v5.1M501.32 352.5h.5M501.81 349.95v5.1M506.91 349.95v5.1M504.11 352.5h.5M504.59 349.95v5.1M509.69 349.95v5.1M506.89 352.5h.5M507.38 349.95v5.1M512.48 349.95v5.1M509.68 352.5h.5M510.17 349.95v5.1M515.27 349.95v5.1M512.47 352.5h.5M512.96 349.95v5.1M518.06 349.95v5.1M515.26 352.5h.5M515.75 349.95v5.1M520.85 349.95v5.1M518.05 352.5h.5M518.54 349.95v5.1M523.64 349.95v5.1M520.84 352.5h.5M521.33 349.95v5.1M526.43 349.95v5.1M523.63 352.5h.5M524.12 349.95v5.1M529.22 349.95v5.1M526.42 352.5h.5M526.91 349.95v5.1M532.01 349.95v5.1M529.21 352.5h.5M529.7 349.95v5.1M534.8 349.95v5.1M532 352.5h.5M532.49 349.95v5.1M537.58 349.95v5.1M534.78 352.5h.5M535.27 349.95v5.1M540.37 349.95v5.1M537.57 352.5h.5M538.06 349.95v5.1M543.16 349.95v5.1M540.36 352.5h.5M540.85 349.95v5.1M545.95 349.95v5.1M543.15 352.5h.5M543.64 349.95v5.1M548.74 349.95v5.1M545.94 352.5h.5M546.43 349.95v5.1M551.53 349.95v5.1M548.73 352.5h.5M549.22 349.95v5.1M554.32 349.95v5.1M551.52 352.5h.5M552.01 349.95v5.1M557.11 349.95v5.1M554.31 352.5h.5M554.8 349.95v5.1M559.9 349.95v5.1M557.1 352.5h.5M557.59 349.95v5.1M562.69 349.95v5.1M559.89 352.5h.5M560.38 349.95v5.1M565.48 349.95v5.1M562.68 352.5h.5M563.16 349.95v5.1M568.26 349.95v5.1M565.46 352.5h.5M565.95 349.95v5.1M571.05 349.95v5.1M568.25 352.5h.5"/>
<path stroke="#ff4500" stroke-width="2.2" stroke-dasharray="4.9 1.7 0.9 1.5 0.9 1.6" stroke-dashoffset="9" d="M505.0 149.91H549.6"/>
<path stroke="#ff4500" stroke-width="2.2" stroke-dasharray="4.9 1.7 0.9 1.5 0.9 1.6" stroke-linejoin="round" d="M113.42 351.93L113.76 351.83L114.1 351.72L114.43 351.59L114.77 351.45L115.11 351.28L115.45 351.1L115.79 350.89L116.13 350.65L116.47 350.41L116.81 350.11L117.15 349.8L117.49 349.45L117.83 349.06L118.17 348.67L118.51 348.18L118.85 347.69L119.19 347.15L119.53 346.55L119.87 345.95L120.21 345.22L120.55 344.5L120.89 343.7L121.23 342.85L121.57 341.97L121.91 340.96L122.25 339.96L122.59 338.85L122.93 337.68L123.27 336.48L123.61 335.15L123.95 333.81L124.29 332.35L124.63 330.84L124.97 329.27L125.31 327.58L125.65 325.89L125.99 324.04L126.33 322.16L126.67 320.21L127 318.14L127.34 316.07L127.68 313.84L128.02 311.58L128.36 309.25L128.7 306.81L129.04 304.37L129.38 301.75L129.72 299.14L130.06 296.43L130.4 293.64L130.74 290.85L131.08 287.9L131.42 284.95L131.76 281.91L132.1 278.81L132.44 275.69L132.78 272.46L133.12 269.22L133.46 265.9L133.8 262.55L134.14 259.16L134.48 255.7L134.82 252.24L135.16 248.7L135.5 245.15L135.84 241.58L136.18 237.95L136.52 234.32L136.86 230.65L137.2 226.97L137.54 223.27L137.88 219.56L138.22 215.84L138.56 212.1L138.9 208.37L139.24 204.63L139.57 200.89L139.91 197.15L140.25 193.43L140.59 189.71L140.93 186L141.27 182.31L141.61 178.63L141.95 174.99L142.29 171.35L142.63 167.75L142.97 164.18L143.31 160.61L143.65 157.12L143.99 153.62L144.33 150.19L144.67 146.79L145.01 143.41L145.35 140.11L145.69 136.81L146.03 133.6L146.37 130.42L146.71 127.28L147.05 124.23L147.39 121.17L147.73 118.23L148.07 115.31L148.41 112.45L148.75 109.68L149.09 106.9L149.43 104.27L149.77 101.65L150.11 99.09L150.45 96.63L150.79 94.16L151.13 91.86L151.47 89.55L151.81 87.34L152.14 85.2L152.48 83.07L152.82 81.1L153.16 79.13L153.5 77.27L153.84 75.47L154.18 73.69L154.52 72.06L154.86 70.43L155.2 68.92L155.54 67.46L155.88 66.05L156.22 64.76L156.56 63.47L156.9 62.31L157.24 61.2L157.58 60.13L157.92 59.18L158.26 58.23L158.6 57.42L158.94 56.63L159.28 55.91L159.62 55.29L159.96 54.66L160.3 54.19L160.64 53.72L160.98 53.33L161.32 53.02L161.66 52.71L162 52.55L162.34 52.39L162.68 52.31L163.02 52.29L163.36 52.29L163.7 52.41L164.04 52.54L164.37 52.75L164.71 53.01L165.05 53.3L165.39 53.69L165.73 54.08L166.07 54.56L166.41 55.08L166.75 55.62L167.09 56.26L167.43 56.89L167.77 57.62L168.11 58.37L168.45 59.15L168.79 60.01L169.13 60.87L169.47 61.82L169.81 62.78L170.15 63.78L170.49 64.83L170.83 65.89L171.17 67.03L171.51 68.18L171.85 69.37L172.19 70.6L172.53 71.84L172.87 73.15L173.21 74.46L173.55 75.82L173.89 77.21L174.23 78.6L174.57 80.06L174.91 81.51L175.25 83.01L175.59 84.53L175.93 86.06L176.27 87.64L176.61 89.22L176.94 90.83L177.28 92.47L177.62 94.11L177.96 95.79L178.3 97.47L178.64 99.19L178.98 100.91L179.32 102.65L179.66 104.41L180 106.18L180.34 107.97L180.68 109.77L181.02 111.58L181.36 113.41L181.7 115.24L182.04 117.09L182.38 118.94L182.72 120.81L183.06 122.69L183.4 124.57L183.74 126.46L184.08 128.36L184.42 130.26L184.76 132.17L185.1 134.08L185.44 136.01L185.78 137.93L186.12 139.85L186.46 141.78L186.8 143.72L187.14 145.65L187.48 147.58L187.82 149.52L188.16 151.46L188.5 153.39L188.84 155.33L189.18 157.26L189.51 159.19L189.85 161.13L190.19 163.06L190.53 164.98L190.87 166.9L191.21 168.82L191.55 170.74L191.89 172.65L192.23 174.55L192.57 176.46L192.91 178.35L193.25 180.24L193.59 182.12L193.93 184L194.27 185.88L194.61 187.73L194.95 189.59L195.29 191.44L195.63 193.28L195.97 195.12L196.31 196.94L196.65 198.76L196.99 200.56L197.33 202.36L197.67 204.15L198.01 205.92L198.35 207.7L198.69 209.45L199.03 211.2L199.37 212.94L199.71 214.66L200.05 216.39L200.39 218.09L200.73 219.78L201.07 221.47L201.41 223.14L201.75 224.8L202.08 226.44L202.42 228.08L202.76 229.71L203.1 231.32L203.44 232.93L203.78 234.51L204.12 236.08L204.46 237.65L204.8 239.2L205.14 240.74L205.48 242.26L205.82 243.77L206.16 245.27L206.5 246.76L206.84 248.24L207.18 249.69L207.52 251.14L207.86 252.57L208.2 253.99L208.54 255.41L208.88 256.79L209.22 258.18L209.56 259.54L209.9 260.9L210.24 262.24L210.58 263.57L210.92 264.89L211.26 266.18L211.6 267.47L211.94 268.75L212.28 270L212.62 271.26L212.96 272.49L213.3 273.71L213.64 274.92L213.98 276.11L214.32 277.3L214.65 278.46L214.99 279.61L215.33 280.76L215.67 281.88L216.01 283.01L216.35 284.1L216.69 285.19L217.03 286.27L217.37 287.33L217.71 288.39L218.05 289.42L218.39 290.45L218.73 291.46L219.07 292.46L219.41 293.45L219.75 294.42L220.09 295.39L220.43 296.34L220.77 297.28L221.11 298.21L221.45 299.12L221.79 300.03L222.13 300.91L222.47 301.79L222.81 302.66L223.15 303.51L223.49 304.37L223.83 305.19L224.17 306.01L224.51 306.83L224.85 307.62L225.19 308.42L225.53 309.19L225.87 309.95L226.21 310.71L226.55 311.45L226.89 312.19L227.22 312.91L227.56 313.62L227.9 314.32L228.24 315.01L228.58 315.7L228.92 316.37L229.26 317.03L229.6 317.68L229.94 318.32L230.28 318.96L230.62 319.57L230.96 320.19L231.3 320.79L231.64 321.39L231.98 321.97L232.32 322.55L232.66 323.12L233 323.67L233.34 324.22L233.68 324.76L234.02 325.29L234.36 325.82L234.7 326.33L235.04 326.84L235.38 327.34L235.72 327.82L236.06 328.31L236.4 328.78L236.74 329.25L237.08 329.71L237.42 330.16L237.76 330.6L238.1 331.03L238.44 331.47L238.78 331.89L239.12 332.3L239.46 332.71L239.79 333.1L240.13 333.5L240.47 333.88L240.81 334.26L241.15 334.64L241.49 335L241.83 335.36L242.17 335.72L242.51 336.06L242.85 336.4L243.19 336.74L243.53 337.07L243.87 337.39L244.21 337.71L244.55 338.02L244.89 338.32L245.23 338.62L245.57 338.92L245.91 339.21L246.25 339.49L246.59 339.77L246.93 340.04L247.27 340.31L247.61 340.57L247.95 340.83L248.29 341.08L248.63 341.33L248.97 341.57L249.31 341.81L249.65 342.05L249.99 342.27L250.33 342.5L250.67 342.72L251.01 342.94L251.35 343.15L251.69 343.36L252.02 343.56L252.36 343.76L252.7 343.96L253.04 344.15L253.38 344.34L253.72 344.52L254.06 344.7L254.4 344.88L254.74 345.05L255.08 345.22L255.42 345.39L255.76 345.55L256.1 345.71L256.44 345.87L256.78 346.02L257.12 346.17L257.46 346.32L257.8 346.46L258.14 346.6L258.48 346.74L258.82 346.88L259.16 347.01L259.5 347.14L259.84 347.26L260.18 347.39L260.52 347.51L260.86 347.63L261.2 347.75L261.54 347.86L261.88 347.97L262.22 348.08L262.56 348.19L262.9 348.29L263.24 348.39L263.58 348.49L263.92 348.59L264.26 348.68L264.59 348.78L264.93 348.87L265.27 348.96L265.61 349.04L265.95 349.13L266.29 349.21L266.63 349.29L266.97 349.37L267.31 349.45L267.65 349.53L267.99 349.6L268.33 349.67L268.67 349.75L269.01 349.81L269.35 349.88L269.69 349.95L270.03 350.01L270.37 350.08L270.71 350.14L271.05 350.2L271.39 350.26L271.73 350.31L272.07 350.37L272.41 350.42L272.75 350.48L273.09 350.53L273.43 350.58L273.77 350.63L274.11 350.68L274.45 350.73L274.79 350.77L275.13 350.82L275.47 350.86L275.81 350.9L276.15 350.95L276.49 350.99L276.83 351.03L277.16 351.07L277.5 351.1L277.84 351.14L278.18 351.18L278.52 351.21L278.86 351.25L279.2 351.28L279.54 351.31L279.88 351.35L280.22 351.38L280.56 351.41L280.9 351.44L281.24 351.47L281.58 351.49L281.92 351.52L282.26 351.55L282.6 351.57L282.94 351.6L283.28 351.62L283.62 351.65L283.96 351.67L284.3 351.69L284.64 351.72L284.98 351.74L285.32 351.76L285.66 351.78L286 351.8L286.34 351.82L286.68 351.84L287.02 351.86L287.36 351.88L287.7 351.89L288.04 351.91L288.38 351.93L288.72 351.94L289.06 351.96L289.4 351.97L289.73 351.99L290.07 352L290.41 352.02L290.75 352.03L291.09 352.05L291.43 352.06L291.77 352.07L292.11 352.08L292.45 352.1L292.79 352.11L293.13 352.12L293.47 352.13L293.81 352.14L294.15 352.15L294.49 352.16L294.83 352.17L295.17 352.18L295.51 352.19L295.85 352.2L296.19 352.21L296.53 352.22L296.87 352.22L297.21 352.23L297.55 352.24L297.89 352.25L298.23 352.26L298.57 352.26L298.91 352.27L299.25 352.28L299.59 352.28L299.93 352.29L300.27 352.3L300.61 352.3L300.95 352.31L301.29 352.31L301.63 352.32L301.97 352.33L302.3 352.33L302.64 352.34L302.98 352.34L303.32 352.35L303.66 352.35L304 352.36L304.34 352.36L304.68 352.36L305.02 352.37L305.36 352.37L305.7 352.38L306.04 352.38L306.38 352.38L306.72 352.39L307.06 352.39L307.4 352.39L307.74 352.4L308.08 352.4L308.42 352.4L308.76 352.41L309.1 352.41L309.44 352.41L309.78 352.42L310.12 352.42L310.46 352.42L310.8 352.42L311.14 352.43L311.48 352.43L311.82 352.43L312.16 352.43L312.5 352.43L312.84 352.44L313.18 352.44L313.52 352.44L313.86 352.44L314.2 352.44L314.54 352.45L314.87 352.45L315.21 352.45L315.55 352.45L315.89 352.45L316.23 352.45L316.57 352.46L316.91 352.46L317.25 352.46"/>
</g>
<path fill="none" stroke="#000" stroke-width="1" d="M68.1 20.0H569.75V352.5H68.1z"/>
<g class="t" text-anchor="end">
<text x="58.3" y="358.4">0</text>
<text x="58.3" y="302.98">0.5</text>
<text x="58.3" y="247.57">1</text>
<text x="58.3" y="192.15">1.5</text>
<text x="58.3" y="136.73">2</text>
<text x="58.3" y="81.32">2.5</text>
<text x="58.3" y="25.9">3</text>
</g><g class="t" text-anchor="middle">
<text x="70.4" y="374.7">0</text>
<text x="154.01" y="374.7">0.5</text>
<text x="237.62" y="374.7">1</text>
<text x="321.22" y="374.7">1.5</text>
<text x="404.83" y="374.7">2</text>
<text x="488.44" y="374.7">2.5</text>
<text x="572.05" y="374.7">3</text>
</g>
<text class="t" x="272" y="400.8">x=(M+a)/L<tspan dy="-8.1" font-size="13.3">1/2</tspan></text>
</svg>
</body></html>
